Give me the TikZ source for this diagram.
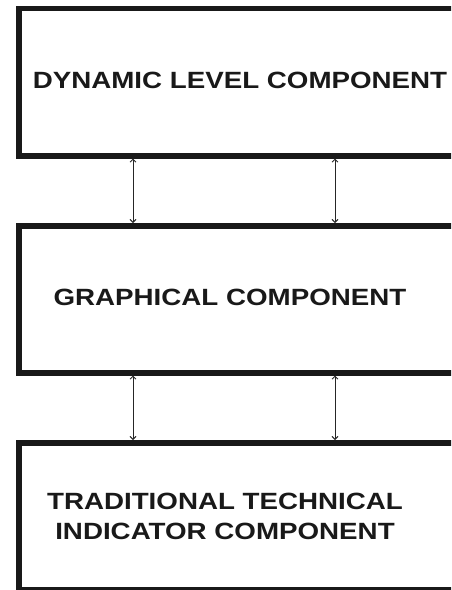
\documentclass[tikz,border=0pt]{standalone}
\usepackage{fontspec}
\setmainfont{Liberation Sans}[FakeStretch=1.18]
\usetikzlibrary{arrows.meta}
\tikzset{
  box/.style={draw=black!90, line width=5.5pt, minimum width=470pt, inner sep=0pt},
  lbl/.style={font=\fontsize{23.5}{30}\selectfont\bfseries, text=black!90, inner sep=0pt, align=center},
  arr/.style={line width=0.9pt, black!85, {Straight Barb[length=3pt,width=6pt]}-{Straight Barb[length=3pt,width=6pt]}}
}
\begin{document}
\begin{tikzpicture}[x=1pt,y=-1pt]
\useasboundingbox[fill=white] (0,0) rectangle (451,590);
\begin{scope}
\clip (0,0) rectangle (451,590);
\node[box, minimum height=147.5pt, anchor=north west] (b1) at (16,5.5) {};
\node[box, minimum height=147pt, anchor=north west] (b2) at (16,223) {};
\node[box, minimum height=147pt, anchor=north west] (b3) at (16,440) {};
\end{scope}
\node[lbl] (t1) at (240,80) {DYNAMIC LEVEL COMPONENT};
\node[lbl] (t2) at (230,297) {GRAPHICAL COMPONENT};
\node[lbl] (t3) at (225,516) {TRADITIONAL TECHNICAL\\INDICATOR COMPONENT};
\coordinate (c1) at (133,0);
\coordinate (c2) at (335,0);
\draw[arr] (b1.south -| c1) -- (b2.north -| c1);
\draw[arr] (b1.south -| c2) -- (b2.north -| c2);
\draw[arr] (b2.south -| c1) -- (b3.north -| c1);
\draw[arr] (b2.south -| c2) -- (b3.north -| c2);
\end{tikzpicture}
\end{document}
